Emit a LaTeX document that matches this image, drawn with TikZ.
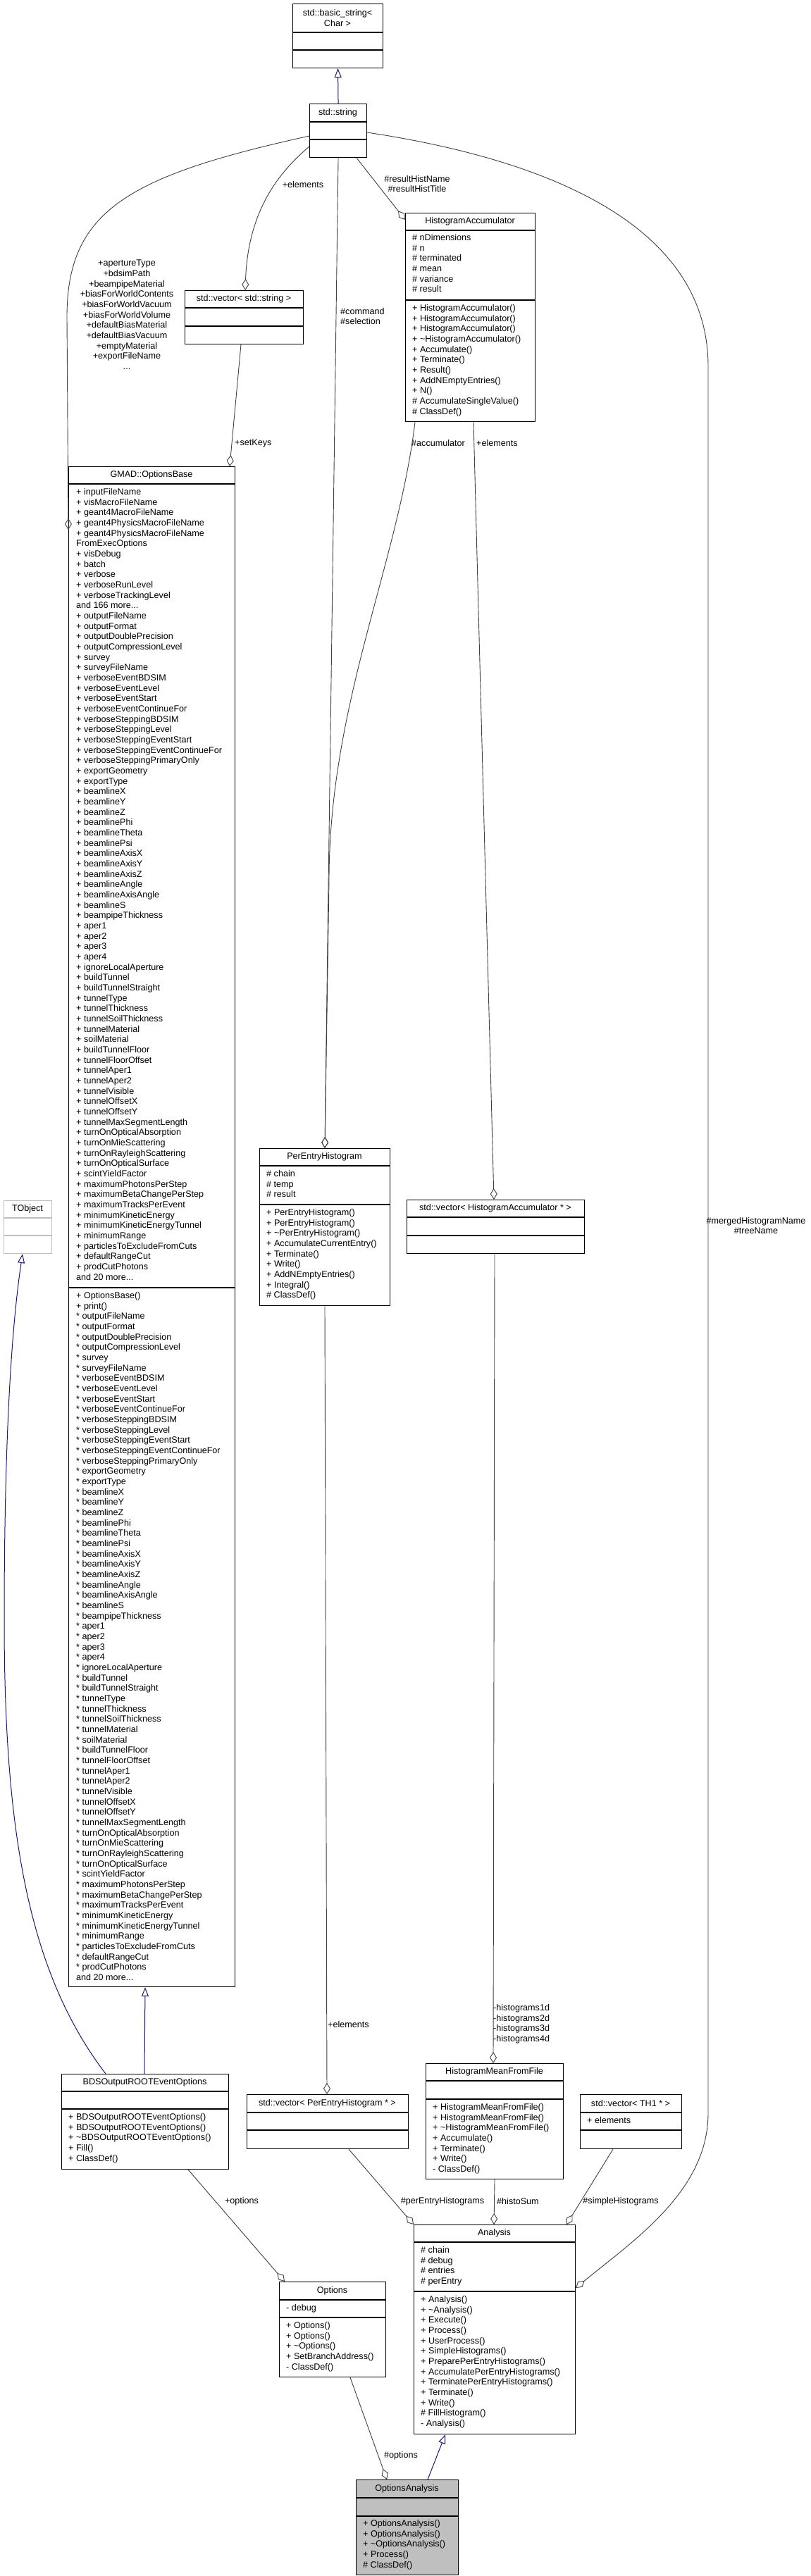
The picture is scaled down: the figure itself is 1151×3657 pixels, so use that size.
\documentclass[tikz,border=0pt]{standalone}
\usepackage{fontspec}
\setmainfont{Liberation Sans}
\usetikzlibrary{arrows.meta}
\definecolor{edgegray}{HTML}{404040}
\definecolor{navy}{HTML}{191970}
\definecolor{lgray}{HTML}{BFBFBF}
\tikzset{
  txt/.style={inner sep=0pt,font=\fontsize{12.6}{14.67}\selectfont},
  box/.style={draw=black,line width=1.1pt,inner sep=0pt},
  sepline/.style={draw=black,line width=1.1pt},
  agg/.style={draw=edgegray,line width=0.9pt,-{Diamond[open,length=16pt,width=10pt]}},
  inh/.style={draw=navy,line width=1pt,-{Triangle[open,length=13pt,width=10pt]}},
}
\newcommand\cls[8]{%
  \node[box,anchor=north west,minimum width=#4pt-#2pt,minimum height=#5pt-#3pt,#8] (#1) at (#2,#3) {};
  \draw[sepline,#8] (#2,#6) -- (#4,#6) (#2,#7) -- (#4,#7);}
\newcommand\ctxt[3]{\node[txt,anchor=north west,align=left] at (#1,#2) {#3};}
\begin{document}
\begin{tikzpicture}[x=1pt,y=-1pt]
\fill[white] (0,0) rectangle (1151,3657);
\useasboundingbox (0,0) rectangle (1151,3657);

% classes
\cls{bstr}{415}{5}{543}{96}{46}{71}{}
\node[txt,align=center] at (479,25.5) {std::basic\_string<\\Char >};
\cls{str}{439}{147}{520}{223}{173}{198}{}
\node[txt] at (479.5,160) {std::string};
\cls{vs}{262}{412}{430}{488}{437}{463}{}
\node[txt] at (346,424.5) {std::vector< std::string >};
\cls{ha}{575}{302}{759}{598}{327}{426}{}
\node[txt] at (667,314.5) {HistogramAccumulator};
\ctxt{585}{332}{\# nDimensions\\\# n\\\# terminated\\\# mean\\\# variance\\\# result}
\ctxt{585}{432}{+ HistogramAccumulator()\\+ HistogramAccumulator()\\+ HistogramAccumulator()\\+ \textasciitilde HistogramAccumulator()\\+ Accumulate()\\+ Terminate()\\+ Result()\\+ AddNEmptyEntries()\\+ N()\\\# AccumulateSingleValue()\\\# ClassDef()}

\cls{opb}{97}{662}{333}{2820}{687}{1828}{}
\node[txt] at (215,674.5) {GMAD::OptionsBase};
\ctxt{108}{693}{+ inputFileName\\+ visMacroFileName\\+ geant4MacroFileName\\+ geant4PhysicsMacroFileName\\+ geant4PhysicsMacroFileName\\FromExecOptions\\+ visDebug\\+ batch\\+ verbose\\+ verboseRunLevel\\+ verboseTrackingLevel\\and 166 more...\\+ outputFileName\\+ outputFormat\\+ outputDoublePrecision\\+ outputCompressionLevel\\+ survey\\+ surveyFileName\\+ verboseEventBDSIM\\+ verboseEventLevel\\+ verboseEventStart\\+ verboseEventContinueFor\\+ verboseSteppingBDSIM\\+ verboseSteppingLevel\\+ verboseSteppingEventStart\\+ verboseSteppingEventContinueFor\\+ verboseSteppingPrimaryOnly\\+ exportGeometry\\+ exportType\\+ beamlineX\\+ beamlineY\\+ beamlineZ\\+ beamlinePhi\\+ beamlineTheta\\+ beamlinePsi\\+ beamlineAxisX\\+ beamlineAxisY\\+ beamlineAxisZ\\+ beamlineAngle\\+ beamlineAxisAngle\\+ beamlineS\\+ beampipeThickness\\+ aper1\\+ aper2\\+ aper3\\+ aper4\\+ ignoreLocalAperture\\+ buildTunnel\\+ buildTunnelStraight\\+ tunnelType\\+ tunnelThickness\\+ tunnelSoilThickness\\+ tunnelMaterial\\+ soilMaterial\\+ buildTunnelFloor\\+ tunnelFloorOffset\\+ tunnelAper1\\+ tunnelAper2\\+ tunnelVisible\\+ tunnelOffsetX\\+ tunnelOffsetY\\+ tunnelMaxSegmentLength\\+ turnOnOpticalAbsorption\\+ turnOnMieScattering\\+ turnOnRayleighScattering\\+ turnOnOpticalSurface\\+ scintYieldFactor\\+ maximumPhotonsPerStep\\+ maximumBetaChangePerStep\\+ maximumTracksPerEvent\\+ minimumKineticEnergy\\+ minimumKineticEnergyTunnel\\+ minimumRange\\+ particlesToExcludeFromCuts\\+ defaultRangeCut\\+ prodCutPhotons\\and 20 more...}
\ctxt{108}{1834}{+ OptionsBase()\\+ print()\\* outputFileName\\* outputFormat\\* outputDoublePrecision\\* outputCompressionLevel\\* survey\\* surveyFileName\\* verboseEventBDSIM\\* verboseEventLevel\\* verboseEventStart\\* verboseEventContinueFor\\* verboseSteppingBDSIM\\* verboseSteppingLevel\\* verboseSteppingEventStart\\* verboseSteppingEventContinueFor\\* verboseSteppingPrimaryOnly\\* exportGeometry\\* exportType\\* beamlineX\\* beamlineY\\* beamlineZ\\* beamlinePhi\\* beamlineTheta\\* beamlinePsi\\* beamlineAxisX\\* beamlineAxisY\\* beamlineAxisZ\\* beamlineAngle\\* beamlineAxisAngle\\* beamlineS\\* beampipeThickness\\* aper1\\* aper2\\* aper3\\* aper4\\* ignoreLocalAperture\\* buildTunnel\\* buildTunnelStraight\\* tunnelType\\* tunnelThickness\\* tunnelSoilThickness\\* tunnelMaterial\\* soilMaterial\\* buildTunnelFloor\\* tunnelFloorOffset\\* tunnelAper1\\* tunnelAper2\\* tunnelVisible\\* tunnelOffsetX\\* tunnelOffsetY\\* tunnelMaxSegmentLength\\* turnOnOpticalAbsorption\\* turnOnMieScattering\\* turnOnRayleighScattering\\* turnOnOpticalSurface\\* scintYieldFactor\\* maximumPhotonsPerStep\\* maximumBetaChangePerStep\\* maximumTracksPerEvent\\* minimumKineticEnergy\\* minimumKineticEnergyTunnel\\* minimumRange\\* particlesToExcludeFromCuts\\* defaultRangeCut\\* prodCutPhotons\\and 20 more...}

\cls{tobj}{5}{1704}{73}{1779}{1729}{1754}{draw=lgray}
\node[txt] at (39,1716.5) {TObject};

\cls{peh}{368}{1630}{553}{1853}{1655}{1710}{}
\node[txt] at (460.5,1642.5) {PerEntryHistogram};
\ctxt{378}{1661}{\# chain\\\# temp\\\# result}
\ctxt{378}{1716}{+ PerEntryHistogram()\\+ PerEntryHistogram()\\+ \textasciitilde PerEntryHistogram()\\+ AccumulateCurrentEntry()\\+ Terminate()\\+ Write()\\+ AddNEmptyEntries()\\+ Integral()\\\# ClassDef()}

\cls{vha}{577}{1703}{829}{1779}{1728}{1754}{}
\node[txt] at (703,1715.5) {std::vector< HistogramAccumulator * >};

\cls{bds}{87}{2944}{324}{3079}{2969}{2994}{}
\node[txt] at (205.5,2956.5) {BDSOutputROOTEventOptions};
\ctxt{97}{3000}{+ BDSOutputROOTEventOptions()\\+ BDSOutputROOTEventOptions()\\+ \textasciitilde BDSOutputROOTEventOptions()\\+ Fill()\\+ ClassDef()}

\cls{vpeh}{350}{2973}{579}{3050}{2999}{3024}{}
\node[txt] at (464.5,2986) {std::vector< PerEntryHistogram * >};

\cls{hm}{604}{2929}{799}{3093}{2954}{2980}{}
\node[txt] at (701.5,2941.5) {HistogramMeanFromFile};
\ctxt{614}{2986}{+ HistogramMeanFromFile()\\+ HistogramMeanFromFile()\\+ \textasciitilde HistogramMeanFromFile()\\+ Accumulate()\\+ Terminate()\\+ Write()\\- ClassDef()}

\cls{th}{823}{2973}{967}{3050}{2999}{3024}{}
\node[txt] at (895,2986) {std::vector< TH1 * >};
\ctxt{833}{3005}{+ elements}

\cls{an}{587}{3158}{816}{3455}{3183}{3253}{}
\node[txt] at (701.5,3170.5) {Analysis};
\ctxt{597}{3189}{\# chain\\\# debug\\\# entries\\\# perEntry}
\ctxt{597}{3259}{+ Analysis()\\+ \textasciitilde Analysis()\\+ Execute()\\+ Process()\\+ UserProcess()\\+ SimpleHistograms()\\+ PreparePerEntryHistograms()\\+ AccumulatePerEntryHistograms()\\+ TerminatePerEntryHistograms()\\+ Terminate()\\+ Write()\\\# FillHistogram()\\- Analysis()}

\cls{opt}{396}{3239}{547}{3374}{3265}{3290}{}
\node[txt] at (471.5,3252) {Options};
\ctxt{406}{3271}{- debug}
\ctxt{406}{3296}{+ Options()\\+ Options()\\+ \textasciitilde Options()\\+ SetBranchAddress()\\- ClassDef()}

\cls{oa}{505}{3520}{650}{3655}{3546}{3572}{fill=lgray}
\node[txt] at (577.5,3533) {OptionsAnalysis};
\ctxt{515}{3577}{+ OptionsAnalysis()\\+ OptionsAnalysis()\\+ \textasciitilde OptionsAnalysis()\\+ Process()\\\# ClassDef()}

% connectors
\draw[inh] (str.north) -- (bstr.south);
\draw[agg] ([yshift=-46pt]str.north west) .. controls (180,250) and (95,300) .. (95,450) -- ([yshift=-90pt]opb.north west);
\draw[agg] ([yshift=-61pt]str.north west) .. controls (395,245) and (352,300) .. ([xshift=86pt]vs.north west);
\draw[agg] (str.south) -- ([xshift=93pt]peh.north west);
\draw[agg] ([xshift=67pt]str.south west) -- ([yshift=-10pt]ha.north west);
\draw[agg] ([yshift=-41pt]str.north east) .. controls (800,230) and (1005,330) .. (1005,520) -- (1005,3000) .. controls (1005,3110) and (900,3180) .. ([yshift=-90pt]an.north east);
\draw[agg] ([xshift=80pt]vs.south west) -- ([xshift=229pt]opb.north west);
\draw[agg] ([xshift=14pt]ha.south west) .. controls (565,800) and (467,1000) .. (467,1250) -- ([xshift=93pt]peh.north west);
\draw[agg] ([xshift=97pt]ha.south west) -- ([xshift=124pt]vha.north west);
\draw[agg] ([xshift=93pt]peh.south west) -- ([xshift=114pt]vpeh.north west);
\draw[agg] ([xshift=125pt]vha.south west) -- ([xshift=96pt]hm.north west);
\draw[inh] ([xshift=63pt]bds.north west) .. controls (40,2800) and (6,2600) .. (6,2300) .. controls (6,2000) and (20,1860) .. ([xshift=27pt]tobj.south west);
\draw[inh] ([xshift=118pt]bds.north west) -- ([xshift=109pt]opb.south west);
\draw[agg] ([xshift=180pt]bds.south west) -- ([xshift=8pt]opt.north west);
\draw[agg] ([xshift=145pt]vpeh.south west) -- (an.north west);
\draw[agg] (hm.south) -- ([xshift=114pt]an.north west);
\draw[agg] ([xshift=47pt]th.south west) -- ([xshift=217pt]an.north west);
\draw[agg] ([xshift=101pt]opt.south west) -- ([xshift=44pt]oa.north west);
\draw[inh] ([xshift=102pt]oa.north west) -- ([xshift=45pt]an.south west);

% labels
\node[txt,align=center,anchor=north] at (180,369) {+apertureType\\+bdsimPath\\+beampipeMaterial\\+biasForWorldContents\\+biasForWorldVacuum\\+biasForWorldVolume\\+defaultBiasMaterial\\+defaultBiasVacuum\\+emptyMaterial\\+exportFileName\\...};
\node[txt] at (430,262) {+elements};
\node[txt,align=center] at (592,261) {\#resultHistName\\\#resultHistTitle};
\node[txt,align=left,anchor=west] at (483,449) {\#command\\\#selection};
\node[txt,anchor=west] at (333,629) {+setKeys};
\node[txt,anchor=west] at (584,629) {\#accumulator};
\node[txt,anchor=west] at (676,629) {+elements};
\node[txt,align=center] at (1073,1740) {\#mergedHistogramName\\\#treeName};
\node[txt,anchor=west] at (465,2874) {+elements};
\node[txt,align=left,anchor=north west] at (700,2845) {-histograms1d\\-histograms2d\\-histograms3d\\-histograms4d};
\node[txt] at (343,3125) {+options};
\node[txt] at (628,3125) {\#perEntryHistograms};
\node[txt,anchor=west] at (705,3125) {\#histoSum};
\node[txt] at (881,3125) {\#simpleHistograms};
\node[txt] at (569,3486) {\#options};
\end{tikzpicture}
\end{document}
